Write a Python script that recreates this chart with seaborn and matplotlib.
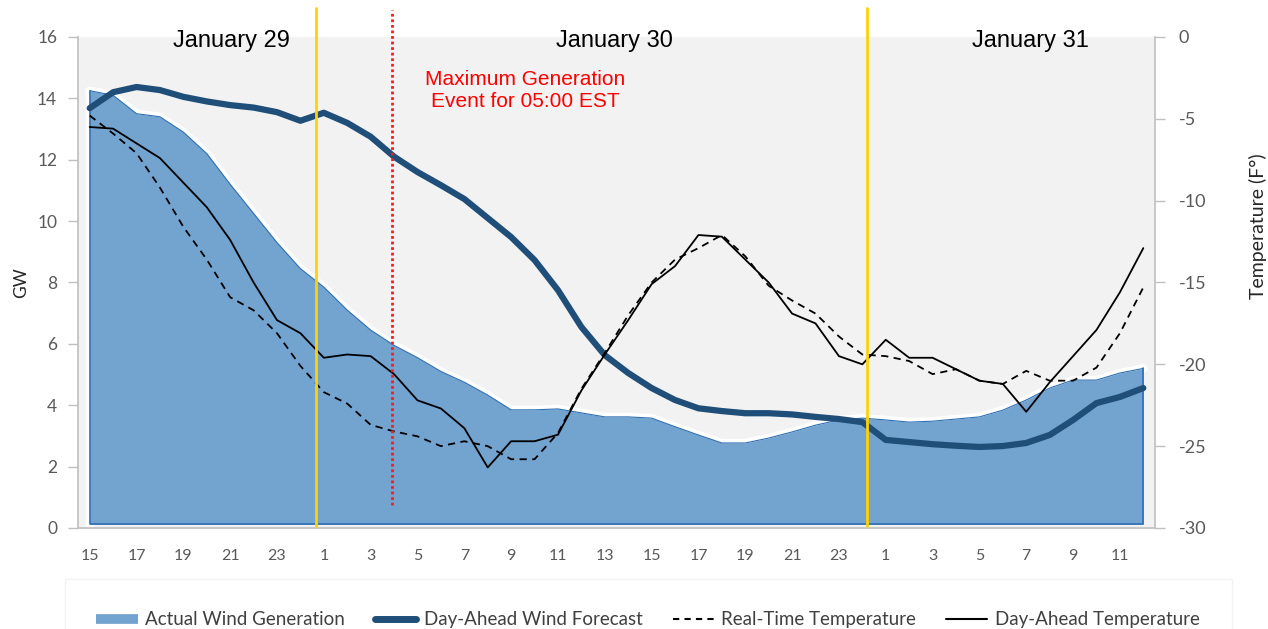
import numpy as np
import pandas as pd
import matplotlib
matplotlib.use("Agg")
import matplotlib.pyplot as plt
import seaborn as sns
from matplotlib.lines import Line2D

# ---------------- data ----------------
hours = [15, 16, 17, 18, 19, 20, 21, 22, 23, 24,
         1, 2, 3, 4, 5, 6, 7, 8, 9, 10, 11, 12, 13, 14, 15, 16, 17, 18, 19, 20, 21, 22, 23, 24,
         1, 2, 3, 4, 5, 6, 7, 8, 9, 10, 11, 12]

actual_wind = [14.25, 14.1, 13.5, 13.4, 12.9, 12.2, 11.2, 10.25, 9.3, 8.45,
               7.85, 7.1, 6.45, 5.95, 5.55, 5.1, 4.75, 4.33, 3.85, 3.85,
               3.88, 3.75, 3.62, 3.62, 3.58, 3.3, 3.03, 2.77, 2.77, 2.93,
               3.13, 3.35, 3.52, 3.58, 3.52, 3.45, 3.48, 3.55, 3.62, 3.84,
               4.17, 4.56, 4.82, 4.82, 5.05, 5.2]

da_wind_forecast = [13.68, 14.2, 14.37, 14.27, 14.05, 13.9, 13.78, 13.7, 13.55, 13.27,
                    13.53, 13.2, 12.75, 12.1, 11.6, 11.17, 10.72, 10.1, 9.48, 8.73,
                    7.75, 6.55, 5.63, 5.05, 4.56, 4.17, 3.9, 3.81, 3.74, 3.74,
                    3.7, 3.62, 3.55, 3.45, 2.87, 2.8, 2.73, 2.68, 2.64, 2.67,
                    2.77, 3.03, 3.52, 4.07, 4.27, 4.56]

rt_temp = [-4.8, -5.9, -7.1, -9.2, -11.6, -13.6, -15.9, -16.7, -18.1, -20.1,
           -21.7, -22.4, -23.7, -24.1, -24.4, -25.0, -24.7, -25.0, -25.8, -25.8,
           -24.2, -21.5, -19.3, -17.0, -15.0, -13.6, -12.9, -12.1, -13.4, -15.2,
           -16.1, -16.9, -18.3, -19.4, -19.5, -19.8, -20.6, -20.3, -21.0, -21.2,
           -20.4, -21.0, -21.0, -20.2, -18.1, -15.3]

da_temp = [-5.5, -5.6, -6.5, -7.4, -8.9, -10.4, -12.4, -15.0, -17.3, -18.1,
           -19.6, -19.4, -19.5, -20.6, -22.2, -22.7, -23.9, -26.3, -24.7, -24.7,
           -24.3, -21.6, -19.4, -17.3, -15.1, -14.0, -12.1, -12.2, -13.6, -15.0,
           -16.9, -17.5, -19.5, -20.0, -18.5, -19.6, -19.6, -20.3, -21.0, -21.2,
           -22.9, -21.1, -19.5, -17.9, -15.6, -12.9]

day_labels = ["January 29", "January 30", "January 31"]
event_label = "Maximum Generation\nEvent for 05:00 EST"

df = pd.DataFrame({
    "idx": np.arange(len(hours)),
    "hour": hours,
    "actual": actual_wind,
    "forecast": da_wind_forecast,
    "rt_temp": rt_temp,
    "da_temp": da_temp,
})

# ---------------- style ----------------
sns.set_theme(style="white")
plt.rcParams["font.family"] = ["Lato", "DejaVu Sans"]
plt.rcParams["axes.unicode_minus"] = False

AREA = "#73a3cf"
AREA_EDGE = "#2e6fb3"
NAVY = "#1f4e79"
GREY_TXT = "#595959"
SPINE = "#bfbfbf"

fig = plt.figure(figsize=(12.68, 6.29), dpi=100)
ax = fig.add_axes([0.0615, 0.1606, 0.8494, 0.7806])
ax.set_facecolor("#f2f2f2")

x = df["idx"].values
# white halo + area
ax.plot(x, df["actual"], color="white", lw=6, zorder=1, solid_joinstyle="round")
ax.plot([x[0], x[0]], [0, df["actual"].iloc[0]], color="white", lw=6, zorder=1)
ax.fill_between(x, 0.12, df["actual"], color=AREA, zorder=2, linewidth=0)
ax.plot(x, df["actual"], color=AREA_EDGE, lw=0.8, zorder=2.5)
ax.plot([x[0], x[0], x[-1], x[-1]], [df["actual"].iloc[0], 0.12, 0.12, df["actual"].iloc[-1]],
        color=AREA_EDGE, lw=1.2, zorder=2.5)

sns.lineplot(data=df, x="idx", y="forecast", ax=ax, color=NAVY, lw=4.5, zorder=5,
             legend=False)

ax.set_xlim(-0.5, 45.5)
ax.set_ylim(0, 16)
ax.set_yticks(np.arange(0, 17, 2))
ax.set_xticks(x[::2])
ax.set_xticklabels([str(h) for h in hours[::2]])
ax.set_xlabel("")
ax.set_ylabel("GW", fontsize=12.5, color="#262626", labelpad=6)
ax.tick_params(axis="y", which="both", left=True, length=7, width=1, color=SPINE,
               labelsize=12.5, labelcolor=GREY_TXT, pad=8)
ax.tick_params(axis="x", bottom=False, labelsize=11.5, labelcolor=GREY_TXT, pad=9)
for s in ["top", "right"]:
    ax.spines[s].set_visible(False)
for s in ["left", "bottom"]:
    ax.spines[s].set_color(SPINE)
    ax.spines[s].set_linewidth(1.2)

ax2 = ax.twinx()
sns.lineplot(data=df, x="idx", y="rt_temp", ax=ax2, color="black", lw=1.3,
             linestyle=(0, (4, 3)), legend=False, zorder=6)
sns.lineplot(data=df, x="idx", y="da_temp", ax=ax2, color="black", lw=1.3,
             legend=False, zorder=6)
ax2.set_ylim(-30, 0)
ax2.set_yticks(np.arange(-30, 1, 5))
ax2.set_xlim(-0.5, 45.5)
ax2.set_ylabel("Temperature (F°)", fontsize=14, color="#262626")
ax2.yaxis.label.set_va("center")
ax2.yaxis.label.set_ha("center")
ax2.yaxis.set_label_coords(1.0957, 0.615)
ax2.tick_params(axis="y", right=True, length=7, width=1, color=SPINE,
                labelsize=13, labelcolor=GREY_TXT, pad=10)
for s in ["top", "left", "bottom"]:
    ax2.spines[s].set_visible(False)
ax2.spines["right"].set_color(SPINE)
ax2.spines["right"].set_linewidth(1.2)

# day separators and event marker
for xv in [9.67, 33.2]:
    ax2.plot([xv, xv], [-29.85, 1.8], color="#ffd200", lw=2, clip_on=False, zorder=7)
ax2.plot([12.9, 12.9], [-28.6, 1.65], color="#ff1a1a", lw=2, ls=(0, (1, 1)),
         clip_on=False, zorder=7)

# text annotations
for xv, lab in zip([6.05, 22.4, 40.2], day_labels):
    ax.text(xv, 15.88, lab, ha="center", va="center", fontsize=17,
            family=["Liberation Sans", "DejaVu Sans"], color="black", zorder=8)
ax.text(18.6, 14.27, event_label, ha="center", va="center", fontsize=15,
        family=["Liberation Sans", "DejaVu Sans"], color="#ff0000",
        linespacing=1.2, zorder=8)

# legend
handles = [
    Line2D([0], [0], color=AREA, lw=7, solid_capstyle="butt"),
    Line2D([0], [0], color=NAVY, lw=5, solid_capstyle="round"),
    Line2D([0], [0], color="black", lw=1.5, ls=(0, (3, 2.5))),
    Line2D([0], [0], color="black", lw=1.5),
]
labels = ["Actual Wind Generation", "Day-Ahead Wind Forecast",
          "Real-Time Temperature", "Day-Ahead Temperature"]
leg = fig.legend(handles, labels, loc="upper left", bbox_to_anchor=(0.048, 0.085),
                 ncol=4, frameon=True, fontsize=13.5, handlelength=2.2,
                 handletextpad=0.4, columnspacing=1.6, borderpad=1.4)
leg.get_frame().set_edgecolor("#f0f0f0")
leg.get_frame().set_linewidth(1)
leg.get_frame().set_boxstyle("square")
for t in leg.get_texts():
    t.set_color("#404040")

fig.savefig("out.png", dpi=100)
